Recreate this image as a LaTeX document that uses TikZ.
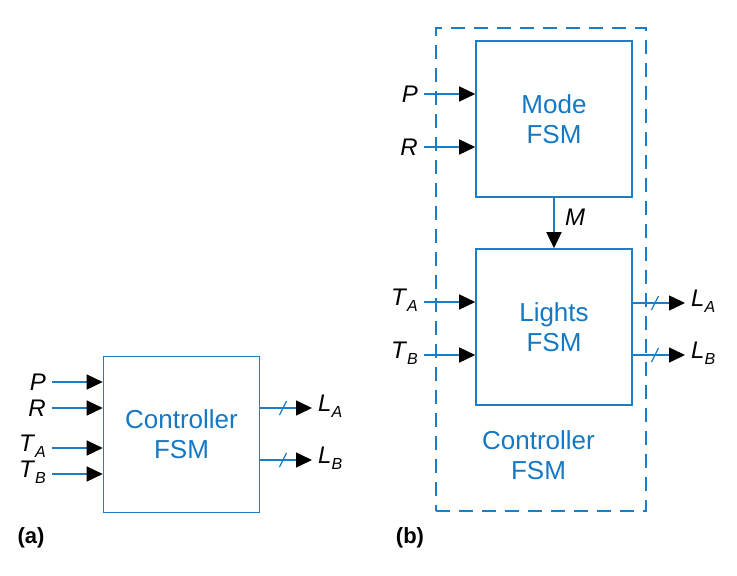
\documentclass[tikz,border=0pt]{standalone}
\usepackage{fontspec}
\setmainfont{Liberation Sans}
\usetikzlibrary{arrows.meta}
\definecolor{lineblue}{RGB}{28,125,196}
\definecolor{textblue}{RGB}{20,120,195}
\newcommand\sg[2]{\textit{#1}\raisebox{-6.5pt}{\fontsize{16}{16}\selectfont\textit{#2}}}
\tikzset{
  fsm/.style={draw=lineblue, line width=1.6pt, rectangle, inner sep=0pt,
    minimum width=156pt, minimum height=156pt, text=textblue, align=center,
    font=\fontsize{26}{30}\selectfont},
  outer/.style={draw=lineblue, line width=2.2pt, dash pattern=on 14pt off 9pt, rectangle,
    inner sep=0pt, minimum width=210pt, minimum height=483pt},
  wire/.style={draw=lineblue, line width=1.5pt, -{Triangle[length=16pt,width=15pt,fill=black,color=black]}},
  lab/.style={inner sep=0pt, font=\fontsize{24}{28}\selectfont},
  inl/.style={lab, anchor=east, xshift=-6pt},
  outl/.style={lab, anchor=west, xshift=6pt},
  slash/.style={draw=lineblue, line width=1.3pt},
  tag/.style={inner sep=0pt, font=\fontsize{22}{26}\selectfont\bfseries}
}
\begin{document}
\begin{tikzpicture}[x=1pt,y=-1pt]
\useasboundingbox (0,0) rectangle (737,576);
% (a)
\node[fsm] (ctrl) at (181.5,434.5) {Controller\\FSM};
\coordinate (aP) at (52,382);
\coordinate (aR) at (52,408);
\coordinate (aTA) at (52,448);
\coordinate (aTB) at (52,474);
\draw[wire] (aP) -- (aP -| ctrl.west);
\draw[wire] (aR) -- (aR -| ctrl.west);
\draw[wire] (aTA) -- (aTA -| ctrl.west);
\draw[wire] (aTB) -- (aTB -| ctrl.west);
\node[inl] (laP) at (aP) {\textit{P}};
\node[inl] (laR) at (aR) {\textit{R}};
\node[inl,yshift=2pt] (laTA) at (aTA) {\sg{T}{A}};
\node[inl,yshift=2pt] (laTB) at (aTB) {\sg{T}{B}};
\coordinate (aLA) at (312,408);
\coordinate (aLB) at (312,460);
\draw[wire] (aLA -| ctrl.east) -- (aLA);
\draw[wire] (aLB -| ctrl.east) -- (aLB);
\draw[slash] (279.5,415) -- (286.5,401);
\draw[slash] (279.5,467) -- (286.5,453);
\node[outl,yshift=2pt] (laLA) at (aLA) {\sg{L}{A}};
\node[outl,yshift=2pt] (laLB) at (aLB) {\sg{L}{B}};
\node[tag] (ta) at (31,538) {(a)};
% (b)
\node[outer] (box) at (541,269.5) {};
\node[fsm] (mode) at (554,119) {Mode\\FSM};
\node[fsm] (lights) at (554,327) {Lights\\FSM};
\node[text=textblue, align=center, inner sep=0pt, font=\fontsize{26}{30}\selectfont] (ctext) at (538.5,455) {Controller\\FSM};
\coordinate (bP) at (424,94);
\coordinate (bR) at (424,147);
\coordinate (bTA) at (424,302);
\coordinate (bTB) at (424,355);
\draw[wire] (bP) -- (bP -| mode.west);
\draw[wire] (bR) -- (bR -| mode.west);
\draw[wire] (bTA) -- (bTA -| lights.west);
\draw[wire] (bTB) -- (bTB -| lights.west);
\node[inl] (lbP) at (bP) {\textit{P}};
\node[inl] (lbR) at (bR) {\textit{R}};
\node[inl,yshift=2pt] (lbTA) at (bTA) {\sg{T}{A}};
\node[inl,yshift=2pt] (lbTB) at (bTB) {\sg{T}{B}};
\draw[wire] (mode.south) -- (lights.north);
\node[lab] (lM) at (575,217) {\textit{M}};
\coordinate (bLA) at (685,303);
\coordinate (bLB) at (685,355);
\draw[wire] (bLA -| lights.east) -- (bLA);
\draw[wire] (bLB -| lights.east) -- (bLB);
\draw[slash] (651.5,310) -- (658.5,296);
\draw[slash] (651.5,362) -- (658.5,348);
\node[outl,yshift=2pt] (lbLA) at (bLA) {\sg{L}{A}};
\node[outl,yshift=2pt] (lbLB) at (bLB) {\sg{L}{B}};
\node[tag] (tb) at (410,538) {(b)};
\end{tikzpicture}
\end{document}
